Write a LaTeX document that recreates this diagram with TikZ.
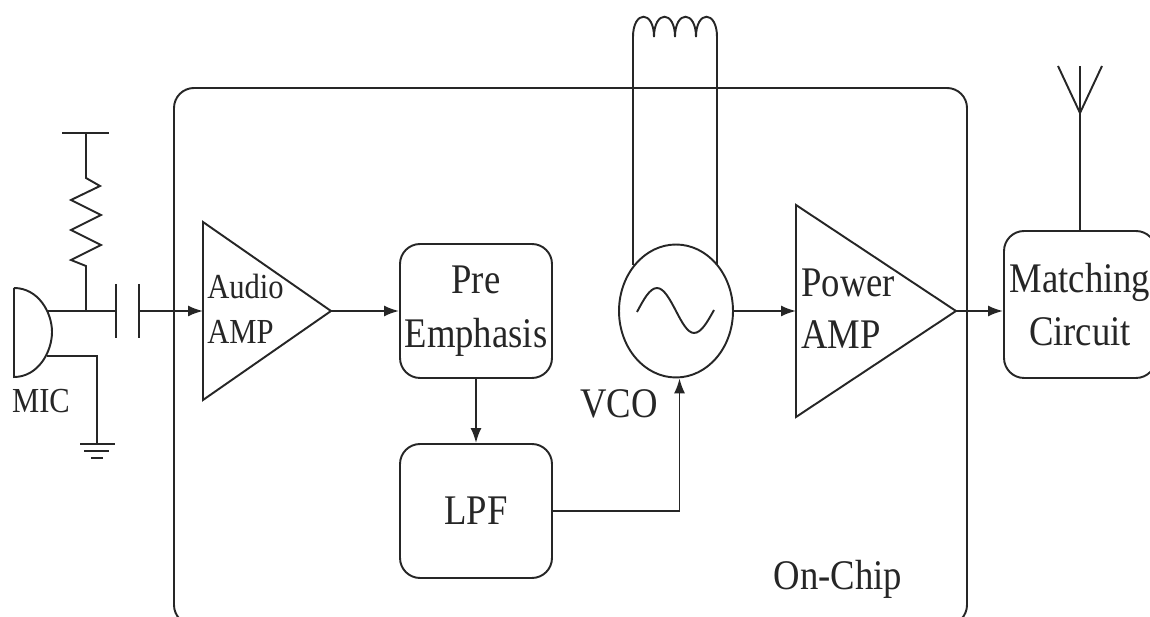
\documentclass[tikz,border=0pt]{standalone}
\usepackage{fontspec}
\setmainfont[FakeStretch=0.87]{Liberation Serif}
\usetikzlibrary{arrows.meta,shapes.geometric}
\tikzset{
  wire/.style={line width=1.1pt,black!85},
  sig/.style={wire,-{Latex[length=0.3cm,width=0.22cm]}},
  block/.style={wire,draw,rounded corners=0.4cm,minimum width=3.04cm,minimum height=2.68cm,inner sep=0pt,align=center,text=black!85,font=\fontsize{24}{30.5}\selectfont},
  smallname/.style={inner sep=0pt,align=left,text=black!85,font=\fontsize{20}{25.5}\selectfont},
  bigname/.style={inner sep=0pt,align=left,text=black!85,font=\fontsize{24}{29.5}\selectfont}
}
\begin{document}
\begin{tikzpicture}[x=0.02cm,y=-0.02cm]
\clip (0,0) rectangle (1150,617);
\draw[wire,rounded corners=0.4cm] (174,88) rectangle (967,625);

\node[block] (pre) at (476,311) {Pre\\Emphasis};
\node[block] (lpf) at (476,511) {LPF};
\node[block,minimum height=2.94cm] (match) at (1080,304.5) {Matching\\Circuit};
\node[wire,draw,ellipse,minimum width=2.28cm,minimum height=2.66cm,inner sep=0pt] (vco) at (676,311) {};

\coordinate (aamp1) at (203,222);
\coordinate (aamp2) at (203,311);
\coordinate (aamp3) at (203,400);
\coordinate (aamp4) at (331,311);
\draw[wire] (aamp1) -- (aamp4) -- (aamp3) -- cycle;
\node[smallname,anchor=west] (aname) at (207,309) {Audio\\AMP};

\coordinate (pamp1) at (796,205);
\coordinate (pamp2) at (796,311);
\coordinate (pamp3) at (796,417);
\coordinate (pamp4) at (956,311);
\draw[wire] (pamp1) -- (pamp4) -- (pamp3) -- cycle;
\node[bigname,anchor=west] (pname) at (801,308.5) {Power\\AMP};

\node[bigname,anchor=base] (vconame) at (619,418) {VCO};
\node[bigname,anchor=base] (chip) at (838,590) {On-Chip};
\node[smallname,anchor=base] (mic) at (41,413) {MIC};

\draw[sig] (aamp4) -- (pre.west);
\draw[sig] (pre) -- (lpf);
\draw[sig] (lpf.east) -| (vco.-87);
\draw[sig] (vco.east) -- (pamp2);
\draw[sig] (pamp4) -- (match.west |- pamp4);

\draw[wire] (637,312) sin (657,288) cos (676,311) sin (694,333) cos (714,310);

\coordinate (indl) at (633,37);
\coordinate (indr) at (717,37);
\draw[wire] (indl) -- (indl |- vco.133.4);
\draw[wire] (indr) -- (indr |- vco.48);
\foreach \x in {633,654,675,696}
  \draw[wire] (\x,37) .. controls (\x,10) and (\x+21,10) .. (\x+21,37);

\coordinate (ant) at (1080,113);
\draw[wire] (match.north) -- (ant) -- (1080,66);
\draw[wire] (1058,66) -- (ant) -- (1102,66);

\draw[wire] (14,288) -- (14,377) .. controls (38,377) and (52,352) .. (52,332) .. controls (52,312) and (38,288) .. (14,288);
\coordinate (micout) at (47,311);
\coordinate (node1) at (86,311);
\coordinate (capl) at (116,311);
\coordinate (capr) at (139,311);
\draw[wire] (micout) -- (capl);
\draw[wire] (116,284) -- (116,338);
\draw[wire] (139,284) -- (139,338);
\draw[sig] (capr) -- (aamp2);

\draw[wire] (62,133) -- (109,133);
\draw[wire] (86,133) -- (86,178) -- (100,186) -- (71,200) -- (101,215) -- (71,230) -- (101,245) -- (71,260) -- (86,266) -- (node1);

\coordinate (gnd) at (97,444);
\draw[wire] (47,356) -- (97,356) -- (gnd);
\draw[wire] (80,444) -- (115,444);
\draw[wire] (84,451) -- (109,451);
\draw[wire] (91,458) -- (103,458);
\end{tikzpicture}
\end{document}
